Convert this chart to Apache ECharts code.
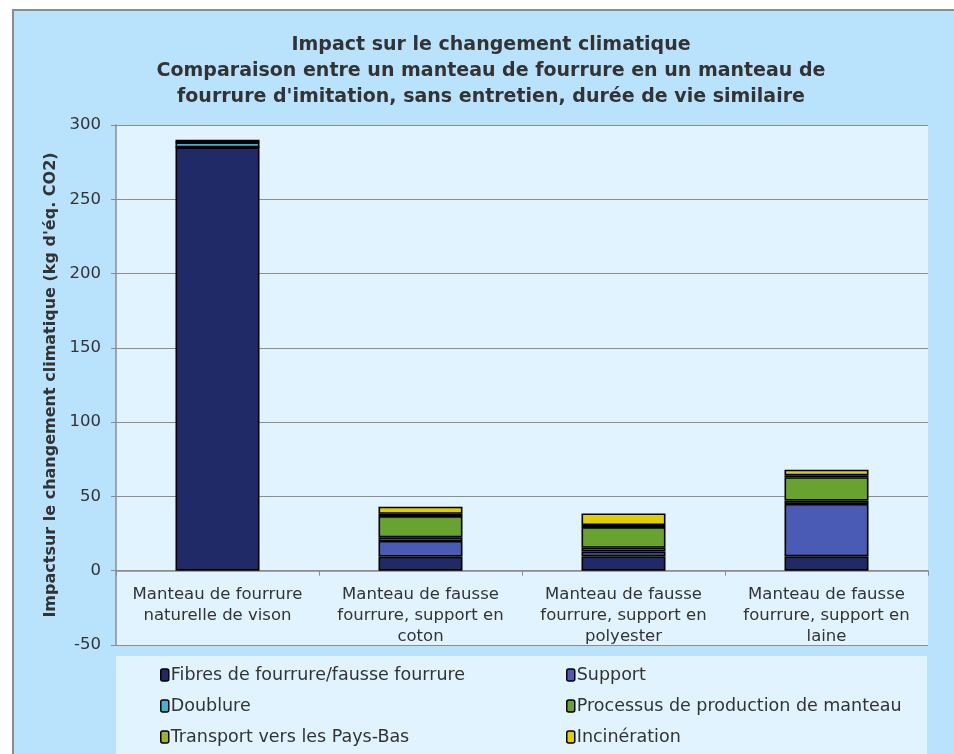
<!DOCTYPE html>
<html><head><meta charset="utf-8">
<script src="https://cdn.jsdelivr.net/npm/echarts@6/dist/echarts.min.js"></script>
<style>html,body{margin:0;padding:0;background:#fff}#c{width:954px;height:754px}</style>
</head><body><div id="c"></div>
<script>
var categories = [
  "Manteau de fourrure\nnaturelle de vison",
  "Manteau de fausse\nfourrure, support en\ncoton",
  "Manteau de fausse\nfourrure, support en\npolyester",
  "Manteau de fausse\nfourrure, support en\nlaine"
];
var seriesNames = [
  "Fibres de fourrure/fausse fourrure",
  "Support",
  "Doublure",
  "Processus de production de manteau",
  "Transport vers les Pays-Bas",
  "Incinération"
];
var fibres = [285, 9.5, 9.6, 9.6];
var support = [0, 10.5, 3.3, 35.3];
var doublure = [3.3, 2.5, 2.5, 2.3];
var processus = [0, 14.3, 14, 15.7];
var transport = [0.5, 1.5, 1.3, 1.3];
var incineration = [1.2, 4.8, 7.8, 3.8];
var yTicks = { min: -50, max: 300, interval: 50 };

var colors = ["#1f2a66", "#4a5bb5", "#40b3cf", "#68a22f", "#a3b31d", "#e0cf00"];
var values = [fibres, support, doublure, processus, transport, incineration];
var FONT = "'DejaVu Sans', sans-serif";

var gridTop = 125, gridBottom = 109, H = 754;
var plotH = H - gridTop - gridBottom;
var zeroOffset = plotH * (0 - yTicks.min) / (yTicks.max - yTicks.min);

var chart = echarts.init(document.getElementById('c'), null, { renderer: 'canvas' });
var series = seriesNames.map(function (n, i) {
  return {
    name: n, type: 'bar', stack: 'total', data: values[i], barWidth: 84,
    itemStyle: { color: colors[i], borderColor: '#000', borderWidth: 1.6 }
  };
});
var legendText = { fontFamily: FONT, fontSize: 17.5, color: '#333', padding: [0, 0, 0, -3] };
chart.setOption({
  animation: false,
  textStyle: { fontFamily: FONT },
  graphic: [
    { type: 'rect', z: -10, shape: { x: 13, y: 10, width: 960, height: 760 },
      style: { fill: '#b9e3fd', stroke: '#8c8c8c', lineWidth: 2 } },
    { type: 'rect', z: -9, shape: { x: 116, y: 656, width: 811, height: 110 },
      style: { fill: '#e0f3fe' } }
  ],
  title: {
    text: "Impact sur le changement climatique\nComparaison entre un manteau de fourrure en un manteau de\nfourrure d'imitation, sans entretien, durée de vie similaire",
    left: 486, top: 27, textAlign: 'center',
    textStyle: { fontFamily: FONT, fontSize: 19, fontWeight: 'bold', color: '#333', lineHeight: 26 }
  },
  legend: [
    { data: [seriesNames[0], seriesNames[2], seriesNames[4]], orient: 'vertical', left: 155, top: 661, height: 120,
      itemGap: 13, itemWidth: 8, itemHeight: 12, itemStyle: { borderColor: '#000', borderWidth: 1.5 },
      textStyle: legendText },
    { data: [seriesNames[1], seriesNames[3], seriesNames[5]], orient: 'vertical', left: 561, top: 661, height: 120,
      itemGap: 13, itemWidth: 8, itemHeight: 12, itemStyle: { borderColor: '#000', borderWidth: 1.5 },
      textStyle: legendText }
  ],
  grid: { left: 116, right: 26, top: gridTop, bottom: gridBottom, show: true, backgroundColor: '#e0f3fe', borderWidth: 0 },
  xAxis: {
    type: 'category', data: categories, position: 'bottom', offset: -zeroOffset,
    axisLine: { onZero: false, lineStyle: { color: '#8c8c8c', width: 1.5 } },
    axisTick: { show: true, length: 5, lineStyle: { color: '#8c8c8c' } },
    axisLabel: { interval: 0, fontFamily: FONT, fontSize: 16.5, color: '#333', lineHeight: 21, margin: 14 }
  },
  yAxis: {
    type: 'value', min: yTicks.min, max: yTicks.max, interval: yTicks.interval,
    name: "Impactsur le changement climatique (kg d'éq. CO2)",
    nameLocation: 'middle', nameGap: 51, nameRotate: 90,
    nameTextStyle: { fontFamily: FONT, fontSize: 16, fontWeight: 'bold', color: '#333' },
    axisLine: { show: true, lineStyle: { color: '#8c8c8c', width: 1.5 } },
    axisTick: { show: true, length: 5, lineStyle: { color: '#8c8c8c' } },
    splitLine: { lineStyle: { color: '#8c8c8c', width: 1 } },
    axisLabel: { fontFamily: FONT, fontSize: 16.5, color: '#333', margin: 15 }
  },
  series: series
});
</script></body></html>
